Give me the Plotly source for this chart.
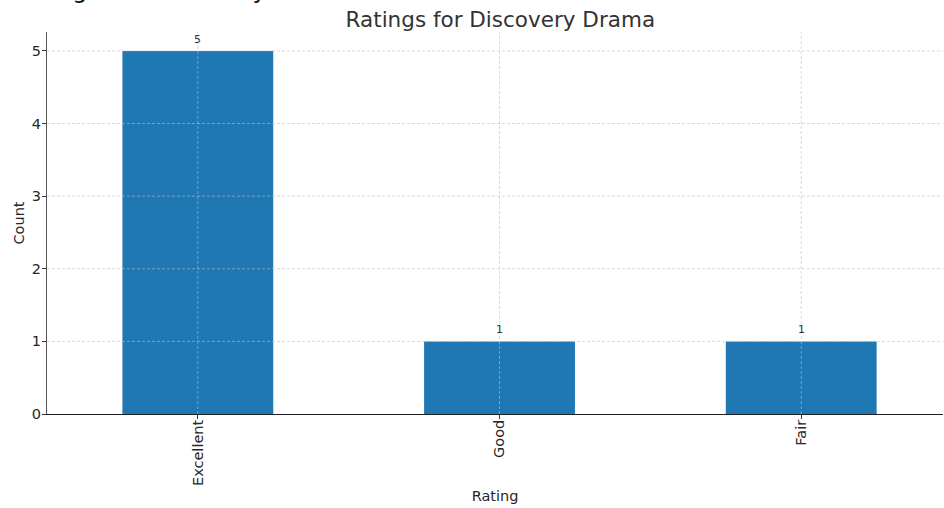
import plotly.graph_objects as go

categories = ["Excellent", "Good", "Fair"]
counts = [5, 1, 1]
y_ticks = [0, 1, 2, 3, 4, 5]

FONT = "DejaVu Sans"
GRID = dict(color="rgba(190,190,190,0.75)", width=0.8, dash="3px,2px")

fig = go.Figure()
fig.add_trace(go.Bar(
    x=categories, y=counts, width=0.5,
    marker=dict(color="#1f77b4", line=dict(width=0)),
    hoverinfo="skip",
))

# value labels above bars
for c, v in zip(categories, counts):
    fig.add_annotation(x=c, y=v, text=str(v), showarrow=False, yanchor="bottom",
                       yshift=3, font=dict(family=FONT, size=11, color="#333333"))

# dashed gridlines drawn above bars
for c in categories:
    fig.add_shape(type="line", xref="x", yref="paper", x0=c, x1=c, y0=0, y1=1,
                  line=GRID, layer="above")
for t in y_ticks[1:]:
    fig.add_shape(type="line", xref="paper", yref="y", x0=0, x1=1, y0=t, y1=t,
                  line=GRID, layer="above")

fig.update_layout(
    width=944, height=508,
    margin=dict(l=47, r=1, t=32, b=94),
    paper_bgcolor="white", plot_bgcolor="white",
    font=dict(family=FONT, color="#262626"),
    title=dict(text="Ratings for Discovery Drama", x=0.53, xanchor="center",
               y=0.9626, yanchor="middle",
               font=dict(family=FONT, size=21.5, color="#333333")),
    showlegend=False,
)
fig.update_xaxes(
    range=[-0.5, 2.47], tickangle=-90, showgrid=False,
    showline=True, linecolor="#222222", linewidth=1,
    ticks="outside", ticklen=4, tickcolor="#333333",
    ticklabelstandoff=-5,
    tickfont=dict(family=FONT, size=14.5, color="#262626"),
    title=dict(text="Rating", font=dict(family=FONT, size=14.5, color="#262626"), standoff=5),
    automargin=False,
)
fig.update_yaxes(
    range=[0, 5.26], tickvals=y_ticks, showgrid=False, zeroline=False,
    showline=True, linecolor="#555555", linewidth=1,
    ticks="outside", ticklen=4, tickcolor="#333333",
    ticklabelstandoff=-2,
    tickfont=dict(family=FONT, size=14.5, color="#262626"),
    title=dict(text="Count", font=dict(family=FONT, size=14.5, color="#262626"), standoff=3),
    automargin=False,
)

# partially clipped heading above the chart
fig.add_annotation(text="Ratings for Discovery Drama", xref="paper", yref="paper",
                   x=-0.043, y=1.068, xanchor="left", yanchor="bottom", showarrow=False,
                   font=dict(family=FONT, size=24, color="#111111"))

fig.write_html("out.html", config={"displayModeBar": False},
               post_script="document.body.style.margin='0';")
